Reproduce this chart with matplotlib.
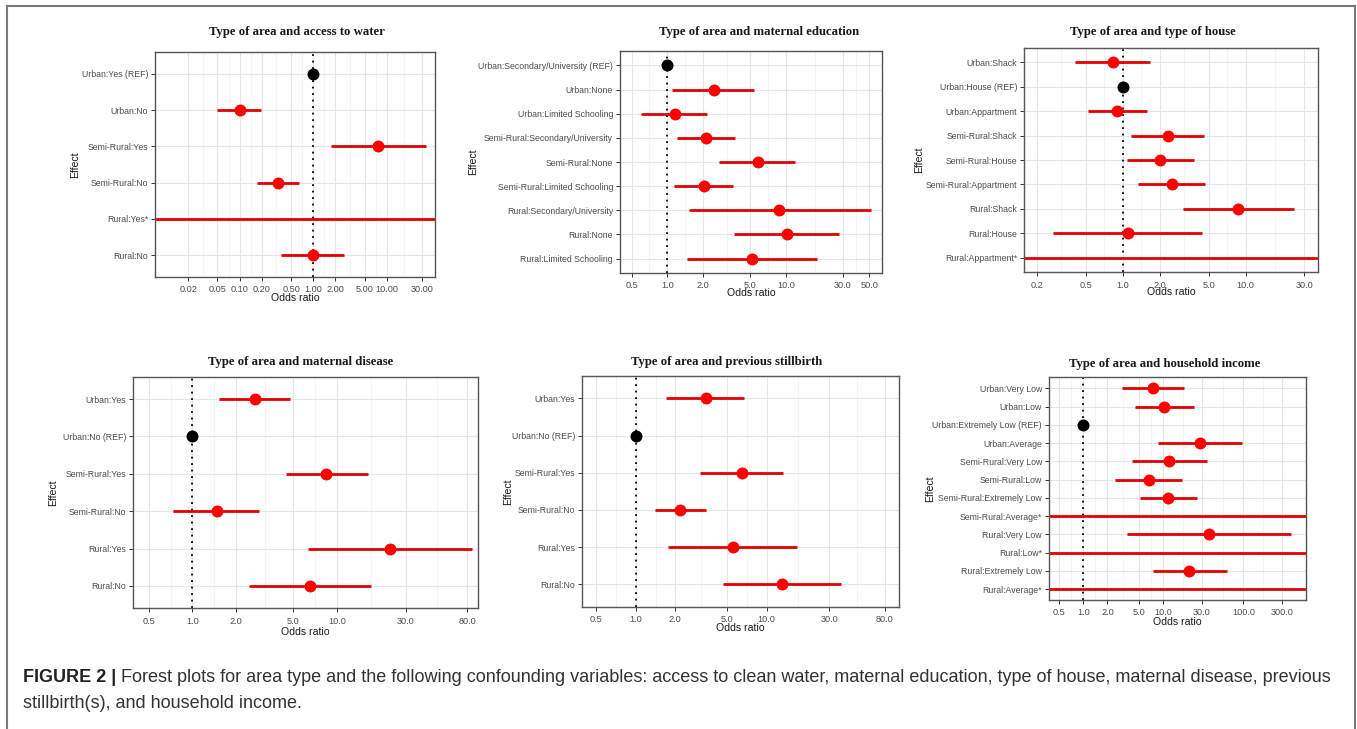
import numpy as np
import matplotlib
matplotlib.use("Agg")
import matplotlib.pyplot as plt
from matplotlib.lines import Line2D

nan = np.nan

# ---------------- data ----------------
titles = ["Type of area and access to water",
          "Type of area and maternal education",
          "Type of area and type of house",
          "Type of area and maternal disease",
          "Type of area and previous stillbirth",
          "Type of area and household income"]

labels1 = ["Urban:Yes (REF)", "Urban:No", "Semi-Rural:Yes", "Semi-Rural:No", "Rural:Yes*", "Rural:No"]
or1 = [1.0, 0.10, 7.5, 0.33, nan, 1.0]
lo1 = [nan, 0.05, 1.72, 0.17, 1e-4, 0.37]
hi1 = [nan, 0.195, 33.5, 0.65, 1e5, 2.6]

labels2 = ["Urban:Secondary/University (REF)", "Urban:None", "Urban:Limited Schooling",
           "Semi-Rural:Secondary/University", "Semi-Rural:None", "Semi-Rural:Limited Schooling",
           "Rural:Secondary/University", "Rural:None", "Rural:Limited Schooling"]
or2 = [1.0, 2.47, 1.15, 2.12, 5.76, 2.05, 8.75, 10.1, 5.13]
lo2 = [nan, 1.10, 0.60, 1.21, 2.74, 1.13, 1.53, 3.64, 1.46]
hi2 = [nan, 5.4, 2.17, 3.71, 11.9, 3.59, 51.5, 28.0, 18.0]

labels3 = ["Urban:Shack", "Urban:House (REF)", "Urban:Appartment", "Semi-Rural:Shack",
           "Semi-Rural:House", "Semi-Rural:Appartment", "Rural:Shack", "Rural:House",
           "Rural:Appartment*"]
or3 = [0.83, 1.0, 0.89, 2.32, 2.01, 2.5, 8.7, 1.10, nan]
lo3 = [0.41, nan, 0.525, 1.16, 1.08, 1.32, 3.11, 0.27, 1e-4]
hi3 = [1.65, nan, 1.57, 4.6, 3.8, 4.68, 24.8, 4.4, 1e5]

labels4 = ["Urban:Yes", "Urban:No (REF)", "Semi-Rural:Yes", "Semi-Rural:No", "Rural:Yes", "Rural:No"]
or4 = [2.72, 1.0, 8.42, 1.47, 23.3, 6.53]
lo4 = [1.54, nan, 4.43, 0.73, 6.29, 2.48]
hi4 = [4.74, nan, 16.4, 2.91, 86.7, 17.2]

labels5 = ["Urban:Yes", "Urban:No (REF)", "Semi-Rural:Yes", "Semi-Rural:No", "Rural:Yes", "Rural:No"]
or5 = [3.41, 1.0, 6.43, 2.17, 5.48, 13.1]
lo5 = [1.70, nan, 3.09, 1.40, 1.75, 4.6]
hi5 = [6.7, nan, 13.2, 3.43, 16.9, 36.9]

labels6 = ["Urban:Very Low", "Urban:Low", "Urban:Extremely Low (REF)", "Urban:Average",
           "Semi-Rural:Very Low", "Semi-Rural:Low", "Semi-Rural:Extremely Low",
           "Semi-Rural:Average*", "Rural:Very Low", "Rural:Low*", "Rural:Extremely Low",
           "Rural:Average*"]
or6 = [7.35, 10.3, 1.0, 28.6, 11.9, 6.6, 11.5, nan, 37.4, nan, 21.0, nan]
lo6 = [3.01, 4.42, nan, 8.5, 4.0, 2.49, 5.1, 1e-4, 3.48, 1e-4, 7.35, 1e-4]
hi6 = [18.2, 24.3, nan, 96.6, 34.7, 17.2, 26.0, 1e5, 392, 1e5, 62.8, 1e5]

ticks1 = [0.02, 0.05, 0.1, 0.2, 0.5, 1, 2, 5, 10, 30]
ticklabels1 = ["0.02", "0.05", "0.10", "0.20", "0.50", "1.00", "2.00", "5.00", "10.00", "30.00"]
ticks2 = [0.5, 1, 2, 5, 10, 30, 50]
ticks3 = [0.2, 0.5, 1, 2, 5, 10, 30]
ticks4 = [0.5, 1, 2, 5, 10, 30, 80]
ticks5 = [0.5, 1, 2, 5, 10, 30, 80]
ticks6 = [0.5, 1, 2, 5, 10, 30, 100, 300]

caption_bold = "FIGURE 2 |"
caption_line1 = ("Forest plots for area type and the following confounding variables: access to clean "
                 "water, maternal education, type of house, maternal disease, previous")
caption_line2 = "stillbirth(s), and household income."

# ---------------- layout ----------------
W, H = 1357, 729
fig = plt.figure(figsize=(W / 100, H / 100), dpi=100)
fig.patch.set_facecolor("white")

def fx(px):
    return px / W

def fy(py):
    return 1 - py / H

panels = [
    dict(lab=labels1, est=or1, lo=lo1, hi=hi1, ticks=ticks1, tl=ticklabels1,
         box=(155, 52, 435, 277), xlim=(0.0071, 45), title=(296.7, 32), ylab=75, xlab=298),
    dict(lab=labels2, est=or2, lo=lo2, hi=hi2, ticks=ticks2, tl=None,
         box=(620, 51, 881.7, 273), xlim=(0.40, 63.5), title=(759, 32), ylab=473, xlab=293),
    dict(lab=labels3, est=or3, lo=lo3, hi=hi3, ticks=ticks3, tl=None,
         box=(1024, 47.7, 1317.7, 272.3), xlim=(0.157, 38.6), title=(1152.8, 31.7), ylab=919, xlab=292),
    dict(lab=labels4, est=or4, lo=lo4, hi=hi4, ticks=ticks4, tl=None,
         box=(133.3, 376.7, 478.3, 608.3), xlim=(0.39, 95.3), title=(300.8, 361.7), ylab=53, xlab=631.7),
    dict(lab=labels5, est=or5, lo=lo5, hi=hi5, ticks=ticks5, tl=None,
         box=(582.3, 376, 899.3, 606.7), xlim=(0.39, 103), title=(727, 362.3), ylab=508, xlab=628),
    dict(lab=labels6, est=or6, lo=lo6, hi=hi6, ticks=ticks6, tl=None,
         box=(1049, 377.3, 1306, 600), xlim=(0.373, 603), title=(1165, 364), ylab=930, xlab=621.7),
]

SANS = ["Liberation Sans", "Arial", "DejaVu Sans"]
SERIF = ["Liberation Serif", "Times New Roman", "DejaVu Serif"]
RED_PT = "#FF0000"
RED_LN = "#E00000"

for p, title in zip(panels, titles):
    l, t, r, b = p["box"]
    ax = fig.add_axes([fx(l), fy(b), fx(r - l), (b - t) / H])
    ax.set_xscale("log")
    n = len(p["lab"])
    ypos = np.arange(n)[::-1]
    ax.set_xlim(*p["xlim"])
    ax.set_ylim(-0.6, n - 0.4)

    # grid
    lt = np.log10(p["ticks"])
    minors = 10 ** ((lt[:-1] + lt[1:]) / 2)
    for m in minors:
        ax.axvline(m, color="#F2F2F2", lw=0.5, zorder=0)
    for tk in p["ticks"]:
        ax.axvline(tk, color="#E6E6E6", lw=0.8, zorder=0)
    for yv in ypos:
        ax.axhline(yv, color="#E6E6E6", lw=0.8, zorder=0)

    ax.axvline(1.0, color="black", lw=1.3, ls=(0, (1, 2.6)), zorder=1)

    for yv, lab, e, lo, hi in zip(ypos, p["lab"], p["est"], p["lo"], p["hi"]):
        ref = "(REF)" in lab
        if not np.isnan(lo):
            ax.plot([lo, hi], [yv, yv], color=RED_LN, lw=2.0, solid_capstyle="butt", zorder=2)
        if not np.isnan(e):
            ax.plot([e], [yv], marker="o", ms=8.6, color="black" if ref else RED_PT,
                    mec="none", zorder=3, linestyle="none")

    ax.set_yticks(ypos)
    ax.set_yticklabels(p["lab"], family=SANS, fontsize=6.3, color="#4D4D4D")
    ax.set_xticks(p["ticks"])
    ax.xaxis.set_minor_locator(matplotlib.ticker.NullLocator())
    if p["tl"] is not None:
        ax.set_xticklabels(p["tl"])
    else:
        ax.set_xticklabels(["%.1f" % v for v in p["ticks"]])
    for lbl in ax.get_xticklabels():
        lbl.set_family(SANS)
        lbl.set_fontsize(6.6)
        lbl.set_color("#4D4D4D")
    ax.tick_params(axis="both", length=3, width=0.7, color="#333333", pad=2)
    ax.tick_params(axis="x", pad=3)
    for sp in ax.spines.values():
        sp.set_color("#555555")
        sp.set_linewidth(1.0)

    fig.text(fx(p["title"][0]), fy(p["title"][1]), title, family=SERIF, fontweight="bold",
             fontsize=9.2, ha="center", va="center", color="#1a1a1a")
    fig.text(fx((l + r) / 2), fy(p["xlab"]), "Odds ratio", family=SANS, fontsize=7.6,
             ha="center", va="center", color="#1a1a1a")
    fig.text(fx(p["ylab"]), fy((t + b) / 2), "Effect", family=SANS, fontsize=7.6,
             ha="center", va="center", rotation=90, color="#1a1a1a")

# figure frame (no bottom edge)
for xs, ys in [((7, 7), (6, H + 5)), ((7, 1355), (6, 6)), ((1355, 1355), (6, H + 5))]:
    fig.add_artist(Line2D([fx(xs[0]), fx(xs[1])], [fy(ys[0]), fy(ys[1])],
                          color="#7a7a7a", lw=1.5, transform=fig.transFigure))

# caption fitted to its measured width
renderer = fig.canvas.get_renderer()
x0, x_end = 23, 1332
fs = 10.5
tb = fig.text(fx(x0), fy(678), caption_bold, family=SANS, fontweight="bold",
              fontsize=fs, ha="left", va="center", color="#222222")
tr = fig.text(0, fy(678), caption_line1, family=SANS, fontsize=fs, ha="left",
              va="center", color="#333333")
for _ in range(3):
    wb = tb.get_window_extent(renderer).width
    sp = fs * 100 / 72 * 0.28
    wr = tr.get_window_extent(renderer).width
    total = wb + sp + wr
    fs = fs * (x_end - x0) / total
    tb.set_fontsize(fs)
    tr.set_fontsize(fs)
wb = tb.get_window_extent(renderer).width
tr.set_x(fx(x0 + wb + fs * 100 / 72 * 0.28))
fig.text(fx(x0), fy(703), caption_line2, family=SANS, fontsize=fs, ha="left",
         va="center", color="#333333")

fig.savefig("out.png", dpi=100, facecolor="white")
